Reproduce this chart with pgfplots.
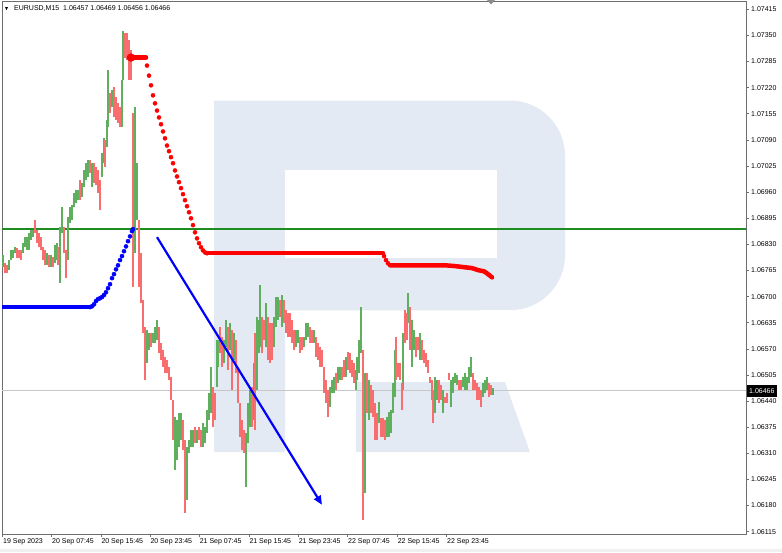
\documentclass[border=0pt]{standalone}
\usepackage{fontspec}
\setmainfont{Liberation Sans}
\usepackage{pgfplots}
\usepackage{pgfplotstable}
\pgfplotsset{compat=1.18}
\usetikzlibrary{arrows.meta}
\definecolor{cgreen}{RGB}{95,175,95}
\definecolor{cred}{RGB}{248,110,110}
\definecolor{wm}{RGB}{228,234,243}
\definecolor{hline}{RGB}{30,140,30}
\definecolor{frame}{RGB}{110,110,110}

\pgfplotstableread{
x lo hi
3 1.06773 1.06803
9 1.06766 1.06791
11 1.06791 1.06815
13 1.06796 1.06815
15 1.06808 1.06823
23 1.06808 1.06833
25 1.06823 1.06848
27 1.06815 1.06848
29 1.06815 1.06858
31 1.06840 1.06865
33 1.06848 1.06865
47 1.06778 1.06808
51 1.06773 1.06803
55 1.06783 1.06828
57 1.06791 1.06833
60 1.06734 1.06873
62 1.06858 1.06922
68 1.06791 1.06897
70 1.06883 1.06922
72 1.06890 1.06927
74 1.06922 1.06957
76 1.06932 1.06965
78 1.06940 1.06965
82 1.06947 1.06982
84 1.06972 1.07014
86 1.06990 1.07032
88 1.06997 1.07039
92 1.06972 1.07032
102 1.06997 1.07057
104 1.07032 1.07096
107 1.07072 1.07139
108 1.07121 1.07263
112 1.07171 1.07213
122 1.07121 1.07238
123 1.07238 1.07362
135 1.06808 1.07171
137 1.06890 1.07032
147 1.06535 1.06617
149 1.06567 1.06609
153 1.06584 1.06609
155 1.06584 1.06624
157 1.06592 1.06642
175 1.06269 1.06400
177 1.06293 1.06393
179 1.06326 1.06410
181 1.06343 1.06410
187 1.06194 1.06326
189 1.06311 1.06343
191 1.06326 1.06368
193 1.06326 1.06368
197 1.06336 1.06368
203 1.06326 1.06385
205 1.06336 1.06375
207 1.06361 1.06418
209 1.06393 1.06460
211 1.06410 1.06525
217 1.06475 1.06592
218 1.06525 1.06592
224 1.06535 1.06592
226 1.06574 1.06642
230 1.06567 1.06634
234 1.06542 1.06609
246 1.06226 1.06361
248 1.06336 1.06435
250 1.06375 1.06468
254 1.06393 1.06535
257 1.06468 1.06649
259 1.06559 1.06642
260 1.06574 1.06729
266 1.06574 1.06684
274 1.06574 1.06649
276 1.06624 1.06699
278 1.06642 1.06699
282 1.06624 1.06704
296 1.06574 1.06617
298 1.06584 1.06617
304 1.06574 1.06599
306 1.06592 1.06634
308 1.06599 1.06634
314 1.06584 1.06617
330 1.06425 1.06475
332 1.06460 1.06492
334 1.06460 1.06500
338 1.06485 1.06525
340 1.06492 1.06525
346 1.06500 1.06549
356 1.06468 1.06517
357 1.06492 1.06549
359 1.06510 1.06592
361 1.06559 1.06674
365 1.06211 1.06510
369 1.06393 1.06492
379 1.06385 1.06438
387 1.06351 1.06400
389 1.06351 1.06413
391 1.06361 1.06418
393 1.06410 1.06485
395 1.06450 1.06567
403 1.06468 1.06609
408 1.06634 1.06709
412 1.06525 1.06642
414 1.06567 1.06617
420 1.06542 1.06609
435 1.06410 1.06500
437 1.06443 1.06492
443 1.06410 1.06468
451 1.06425 1.06492
453 1.06460 1.06500
455 1.06485 1.06510
457 1.06480 1.06505
463 1.06475 1.06500
465 1.06468 1.06510
467 1.06468 1.06500
469 1.06485 1.06525
471 1.06500 1.06549
483 1.06450 1.06485
485 1.06460 1.06492
487 1.06468 1.06500
493 1.06455 1.06472
}\greens

\pgfplotstableread{
x lo hi
5 1.06758 1.06783
7 1.06758 1.06778
17 1.06796 1.06820
19 1.06796 1.06815
21 1.06791 1.06815
35 1.06858 1.06890
37 1.06833 1.06865
39 1.06823 1.06858
41 1.06815 1.06848
43 1.06791 1.06823
45 1.06778 1.06815
49 1.06773 1.06803
53 1.06773 1.06798
58 1.06778 1.06823
64 1.06808 1.06873
66 1.06746 1.06815
80 1.06940 1.06990
90 1.07007 1.07039
94 1.06982 1.07032
96 1.06977 1.07022
98 1.06957 1.07014
100 1.06915 1.06990
105 1.07022 1.07089
110 1.07156 1.07206
114 1.07146 1.07221
116 1.07139 1.07196
118 1.07131 1.07181
120 1.07121 1.07171
125 1.07295 1.07357
127 1.07288 1.07355
129 1.07238 1.07338
131 1.07238 1.07313
133 1.06723 1.07156
139 1.06723 1.06890
141 1.06684 1.06808
143 1.06609 1.06691
145 1.06492 1.06624
151 1.06574 1.06609
159 1.06559 1.06624
161 1.06542 1.06584
163 1.06525 1.06567
165 1.06510 1.06549
167 1.06510 1.06542
169 1.06492 1.06525
171 1.06443 1.06500
173 1.06343 1.06443
183 1.06318 1.06393
185 1.06162 1.06343
195 1.06336 1.06375
199 1.06343 1.06375
201 1.06326 1.06368
213 1.06375 1.06475
215 1.06393 1.06460
220 1.06559 1.06624
222 1.06525 1.06599
228 1.06517 1.06624
232 1.06468 1.06617
236 1.06510 1.06592
238 1.06435 1.06525
240 1.06351 1.06435
242 1.06318 1.06393
244 1.06311 1.06368
252 1.06375 1.06475
255 1.06368 1.06609
262 1.06559 1.06649
264 1.06592 1.06642
268 1.06542 1.06649
270 1.06535 1.06634
272 1.06542 1.06634
280 1.06649 1.06691
284 1.06634 1.06691
286 1.06609 1.06666
288 1.06599 1.06659
290 1.06599 1.06659
292 1.06584 1.06642
294 1.06567 1.06617
300 1.06559 1.06599
302 1.06567 1.06599
310 1.06584 1.06624
312 1.06584 1.06617
316 1.06549 1.06599
318 1.06542 1.06584
320 1.06525 1.06574
322 1.06525 1.06567
324 1.06460 1.06525
326 1.06435 1.06492
328 1.06400 1.06468
336 1.06468 1.06510
342 1.06492 1.06525
344 1.06500 1.06542
348 1.06517 1.06562
350 1.06510 1.06559
352 1.06500 1.06542
354 1.06485 1.06535
363 1.06144 1.06567
367 1.06410 1.06510
371 1.06410 1.06480
373 1.06400 1.06468
375 1.06343 1.06435
377 1.06343 1.06410
381 1.06351 1.06398
383 1.06351 1.06398
385 1.06343 1.06393
396 1.06492 1.06599
398 1.06500 1.06535
400 1.06492 1.06535
402 1.06418 1.06485
405 1.06584 1.06666
407 1.06592 1.06659
410 1.06567 1.06674
416 1.06549 1.06599
418 1.06567 1.06599
422 1.06542 1.06592
424 1.06535 1.06567
426 1.06525 1.06559
428 1.06510 1.06542
430 1.06485 1.06500
432 1.06443 1.06492
433 1.06385 1.06468
439 1.06435 1.06492
441 1.06443 1.06480
445 1.06435 1.06450
447 1.06435 1.06460
449 1.06492 1.06510
459 1.06468 1.06492
461 1.06468 1.06492
473 1.06468 1.06510
475 1.06468 1.06492
477 1.06443 1.06485
479 1.06443 1.06475
481 1.06425 1.06468
489 1.06450 1.06485
491 1.06455 1.06480
}\reds

\pgfplotstableread{
x y
147 1.07275
149 1.07250
151 1.07226
153 1.07201
155 1.07181
157 1.07163
159 1.07146
161 1.07129
163 1.07111
165 1.07094
167 1.07076
169 1.07062
171 1.07047
173 1.07032
175 1.07014
177 1.06999
179 1.06985
181 1.06970
183 1.06955
185 1.06940
187 1.06925
189 1.06910
191 1.06895
193 1.06878
195 1.06860
197 1.06845
199 1.06833
201 1.06823
203 1.06815
205 1.06810
207 1.06808
384 1.06801
386 1.06791
388 1.06783
}\reddots

\pgfplotstableread{
x y
90 1.06674
92 1.06676
94 1.06681
96 1.06689
98 1.06694
100 1.06696
102 1.06699
104 1.06704
106 1.06711
108 1.06721
110 1.06731
112 1.06746
114 1.06756
116 1.06768
118 1.06778
120 1.06791
122 1.06801
124 1.06813
126 1.06825
128 1.06838
130 1.06850
132 1.06863
133 1.06868
}\bluedots

\begin{document}
\begin{tikzpicture}[x=1pt,y=1pt]
\useasboundingbox (0,0) rectangle (782,552);
\fill[black!6] (0,0) rectangle (782,3.5);
\begin{axis}[
  at={(2pt,18pt)}, anchor=south west,
  scale only axis, width=744pt, height=533pt,
  xmin=2, xmax=746, ymin=1.061093, ymax=1.074357,
  axis line style={draw=frame, line width=0.8pt},
  tick align=outside, major tick length=3pt,
  xtick pos=left, ytick pos=right, yticklabel pos=right,
  tick style={draw=frame, line width=0.6pt},
  ytick={1.06115,1.06180,1.06245,1.06310,1.06375,1.06440,1.06505,1.06570,1.06635,1.06700,1.06765,1.06830,1.06895,1.06960,1.07025,1.07090,1.07155,1.07220,1.07285,1.07350,1.07415},
  yticklabels={1.06115,1.06180,1.06245,1.06310,1.06375,1.06440,1.06505,1.06570,1.06635,1.06700,1.06765,1.06830,1.06895,1.06960,1.07025,1.07090,1.07155,1.07220,1.07285,1.07350,1.07415},
  xtick={2.7,51.7,101,150,199.3,249,298.3,347.7,397.3,446.7},
  xticklabels={19 Sep 2023,20 Sep 07:45,20 Sep 15:45,20 Sep 23:45,21 Sep 07:45,21 Sep 15:45,21 Sep 23:45,22 Sep 07:45,22 Sep 15:45,22 Sep 23:45},
  xticklabel style={anchor=north west, inner xsep=0.3pt, inner ysep=1.5pt, font=\fontsize{7}{8}\selectfont},
  yticklabel style={anchor=west, inner xsep=2pt, font=\fontsize{7}{8}\selectfont},
  clip=true,
]
% watermark
\fill[wm] (214,1.07188) -- (510,1.07188) arc[start angle=90,end angle=0,radius=55pt]
   -- (565,1.06803) arc[start angle=0,end angle=-90,radius=55pt]
   -- (285,1.06666) -- (285,1.06313) -- (214,1.06313) -- cycle;
\fill[white] (285,1.07014) rectangle (497,1.06796);
\fill[wm] (356,1.06487) -- (505,1.06487) -- (530,1.06313) -- (356,1.06313) -- cycle;
% lines
\addplot[black!22, line width=0.6pt] coordinates {(2,1.06466) (746,1.06466)};
\addplot[hline, line width=1.3pt] coordinates {(2,1.06868) (746,1.06868)};
% candles
\addplot[draw=none, mark=none, error bars/.cd, y dir=plus, y explicit, error mark=none,
  error bar style={draw=cgreen, line width=1.1pt}]
  table[x=x, y=lo, y error plus expr=\thisrow{hi}-\thisrow{lo}] {\greens};
\addplot[draw=none, mark=none, error bars/.cd, y dir=plus, y explicit, error mark=none,
  error bar style={draw=cred, line width=1.1pt}]
  table[x=x, y=lo, y error plus expr=\thisrow{hi}-\thisrow{lo}] {\reds};
% blue indicator
\addplot[blue, line width=4.5pt] coordinates {(2,1.06674) (90,1.06674)};
\addplot[color=blue, only marks, mark=*, mark size=2.1pt, mark options={solid, fill=blue, draw=blue, line width=0.3pt}] table {\bluedots};
% red indicator
\addplot[red, line width=4.5pt, line cap=round] coordinates {(129,1.07295) (146,1.07295)};
\addplot[color=red, only marks, mark=*, mark size=4pt, mark options={solid, fill=red, draw=red, line width=0.3pt}] coordinates {(131,1.07295)};
\addplot[color=red, only marks, mark=*, mark size=2.1pt, mark options={solid, fill=red, draw=red, line width=0.3pt}] table {\reddots};
\addplot[red, line width=4.5pt, line cap=round] coordinates {(207,1.06808) (383,1.06808)};
\addplot[red, line width=4.5pt, line cap=round] coordinates {(390,1.06778) (445,1.06778) (455,1.06776) (465,1.06773) (472,1.06771) (478,1.06766) (484,1.06763) (488,1.06756) (492,1.06748)};
% arrow
\addplot[blue, line width=2.2pt, -{Triangle[length=9pt,width=7.5pt]}] coordinates {(157,1.06848) (322,1.06182)};
\end{axis}
% top texts
\fill[black] (5,544.8) -- (8,544.8) -- (6.5,542) -- cycle;
\node[anchor=base west, inner sep=0pt, font=\fontsize{7}{8}\selectfont] at (14,541.3) {EURUSD,M15\ \ 1.06457 1.06469 1.06456 1.06466};
\fill[black!45] (487,552) -- (495,552) -- (491,547.5) -- cycle;
% price box
\node[fill=black, text=white, anchor=west, inner xsep=2.5pt, inner ysep=0pt, minimum height=12pt, font=\fontsize{7}{8}\selectfont] at (746.5,161) {1.06466};
\end{tikzpicture}
\end{document}
